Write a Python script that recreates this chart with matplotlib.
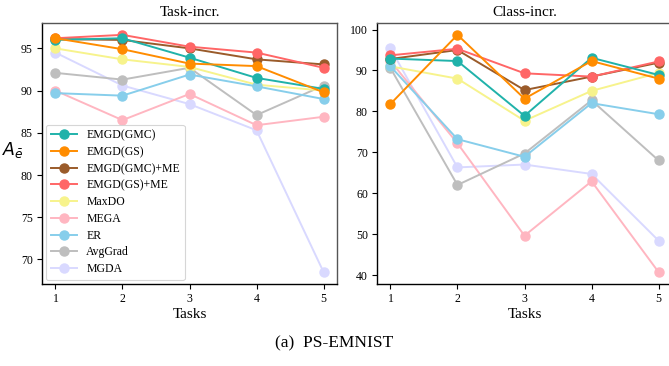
import matplotlib
matplotlib.use("Agg")
import matplotlib.pyplot as plt

plt.rcParams['font.family'] = ['Liberation Serif', 'DejaVu Serif']
plt.rcParams['mathtext.fontset'] = 'dejavusans'

tasks = [1, 2, 3, 4, 5]
methods = ["EMGD(GMC)", "EMGD(GS)", "EMGD(GMC)+ME", "EMGD(GS)+ME",
           "MaxDO", "MEGA", "ER", "AvgGrad", "MGDA"]
colors = ["#20B2AA", "#FF8C00", "#9A5B2A", "#FF6666",
          "#F7F38C", "#FFB6C1", "#87CEEB", "#BEBEBE", "#D9D9FF"]
zorders = [8, 9, 6, 7, 4, 3, 4, 3, 2]

task_incr = {
    "EMGD(GMC)":    [96.0, 96.2, 93.9, 91.5, 90.2],
    "EMGD(GS)":     [96.2, 94.9, 93.2, 92.9, 89.8],
    "EMGD(GMC)+ME": [96.1, 96.0, 95.0, 93.7, 93.1],
    "EMGD(GS)+ME":  [96.2, 96.6, 95.2, 94.5, 92.7],
    "MaxDO":        [95.0, 93.7, 92.8, 90.7, 90.0],
    "MEGA":         [90.0, 86.5, 89.6, 85.9, 86.9],
    "ER":           [89.7, 89.4, 91.9, 90.5, 89.0],
    "AvgGrad":      [92.1, 91.3, 92.7, 87.1, 90.6],
    "MGDA":         [94.5, 90.6, 88.4, 85.3, 68.5],
}
class_incr = {
    "EMGD(GMC)":    [92.9, 92.3, 78.9, 93.1, 88.9],
    "EMGD(GS)":     [81.8, 98.7, 83.1, 92.3, 88.0],
    "EMGD(GMC)+ME": [92.8, 95.0, 85.2, 88.5, 91.9],
    "EMGD(GS)+ME":  [93.7, 95.3, 89.3, 88.5, 92.2],
    "MaxDO":        [91.0, 88.0, 77.7, 85.0, 89.4],
    "MEGA":         [92.3, 72.2, 49.6, 62.9, 40.7],
    "ER":           [91.0, 73.2, 68.9, 82.0, 79.3],
    "AvgGrad":      [90.6, 62.0, 69.7, 82.7, 68.0],
    "MGDA":         [95.4, 66.3, 67.0, 64.7, 48.4],
}

W, H = 669, 366
fig = plt.figure(figsize=(W / 100, H / 100), dpi=100)
axL = fig.add_axes([42 / W, (H - 284) / H, 295 / W, 261 / H])
axR = fig.add_axes([377 / W, (H - 284) / H, 295 / W, 261 / H])

for ax, data, title in [(axL, task_incr, "Task-incr."), (axR, class_incr, "Class-incr.")]:
    for m, c, z in zip(methods, colors, zorders):
        ax.plot(tasks, data[m], color=c, marker='o', markersize=6.5,
                linewidth=1.4, label=m, zorder=z)
    ax.set_title(title, fontsize=11, pad=5)
    ax.set_xlabel("Tasks", fontsize=11, labelpad=2)
    ax.set_xticks(tasks)
    ax.tick_params(labelsize=8.5, length=3.5, width=0.8, pad=3)
    for s in ['left', 'bottom']:
        ax.spines[s].set_color('black')
        ax.spines[s].set_linewidth(1.0)
    for s in ['top', 'right']:
        ax.spines[s].set_color('#555555')
        ax.spines[s].set_linewidth(1.0)

axL.set_yticks([70, 75, 80, 85, 90, 95])
axR.set_yticks([40, 50, 60, 70, 80, 90, 100])
axL.set_ylabel(r"$A_{\bar{e}}$", rotation=0, fontsize=12.5, va='center', ha='center')
axL.yaxis.set_label_coords(-0.1, 0.515)

leg = axL.legend(loc='lower left', fontsize=8.5, frameon=True, fancybox=True,
                 borderpad=0.4, labelspacing=0.4, handlelength=2.2,
                 handletextpad=0.8, borderaxespad=0.35)
leg.get_frame().set_edgecolor('#cccccc')
leg.get_frame().set_linewidth(0.8)

fig.text(0.5, (H - 343) / H, "(a)  PS-EMNIST", ha='center', va='center', fontsize=12.5)

fig.savefig("out.png", dpi=100)
